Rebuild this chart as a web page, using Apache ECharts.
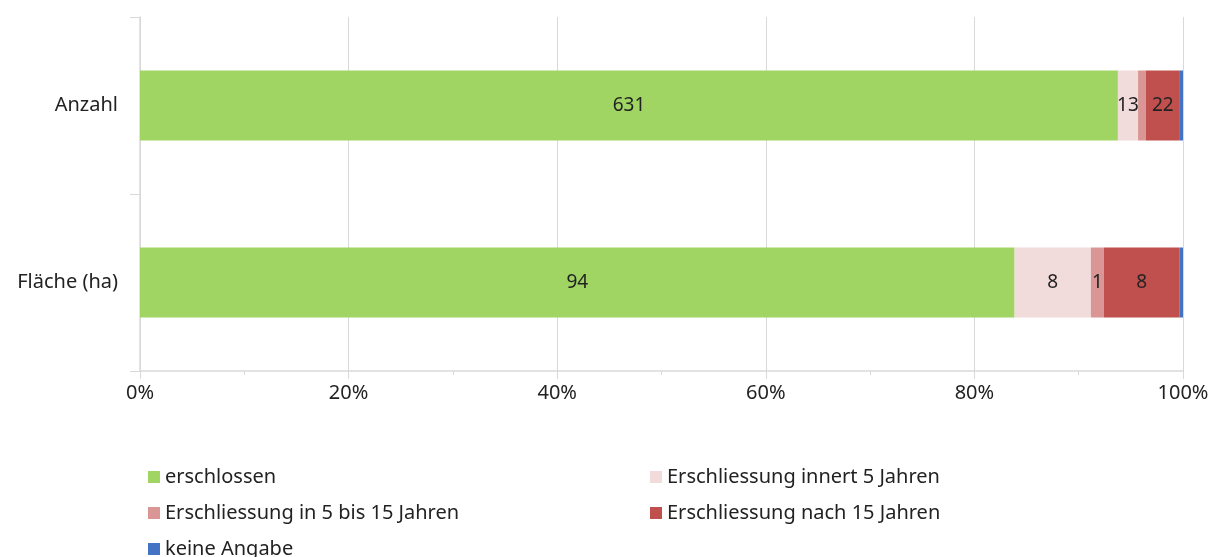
<!DOCTYPE html>
<html><head><meta charset="utf-8">
<script src="https://cdn.jsdelivr.net/npm/echarts@6/dist/echarts.min.js"></script>
<style>html,body{margin:0;padding:0;background:#fff}#c{width:1209px;height:557px}</style>
</head><body><div id="c"></div>
<script>
const categories = ['Anzahl', 'Fläche (ha)'];
const seriesNames = ['erschlossen', 'Erschliessung innert 5 Jahren', 'Erschliessung in 5 bis 15 Jahren', 'Erschliessung nach 15 Jahren', 'keine Angabe'];
const erschlossen = [631, 94];
const innert5 = [13, 8.2];
const in5bis15 = [5, 1.4];
const nach15 = [22, 8.1];
const keineAngabe = [2, 0.4];
const xTicks = [0, 20, 40, 60, 80, 100];

const raw = [erschlossen, innert5, in5bis15, nach15, keineAngabe];
const colors = ['#a0d563', '#f2dcdb', '#d99694', '#c0504d', '#4472c4'];
const totals = categories.map((_, i) => raw.reduce((s, a) => s + a[i], 0));
const FONT = "'Noto Sans', sans-serif";

const legendText = {fontSize: 20, color: '#222', lineHeight: 24, fontFamily: FONT};
const chart = echarts.init(document.getElementById('c'), null, {renderer: 'canvas'});
chart.setOption({
  animation: false,
  textStyle: {fontFamily: FONT},
  grid: {left: 140, right: 26, top: 17, bottom: 186, containLabel: false, outerBoundsMode: 'none'},
  xAxis: {
    type: 'value', min: xTicks[0], max: xTicks[xTicks.length - 1], interval: 20,
    axisLine: {show: true, lineStyle: {color: '#d9d9d9', width: 1.5}},
    axisTick: {show: true, length: 8, lineStyle: {color: '#d9d9d9'}},
    minorTick: {show: true, splitNumber: 2, length: 4, lineStyle: {color: '#d9d9d9'}},
    splitLine: {show: true, lineStyle: {color: '#d9d9d9'}},
    axisLabel: {formatter: '{value}%', color: '#222', fontSize: 20, margin: 12, fontFamily: FONT}
  },
  yAxis: {
    type: 'category', data: categories, inverse: true,
    axisLine: {show: true, lineStyle: {color: '#d9d9d9', width: 1.5}},
    axisTick: {show: true, length: 10, lineStyle: {color: '#d9d9d9'}},
    axisLabel: {color: '#222', fontSize: 20, margin: 22, fontFamily: FONT}
  },
  legend: [
    {left: 143, top: 460, height: 130, orient: 'vertical', itemWidth: 12, itemHeight: 12, itemGap: 12,
     icon: 'rect', data: [seriesNames[0], seriesNames[2], seriesNames[4]], textStyle: legendText},
    {left: 645, top: 460, height: 130, orient: 'vertical', itemWidth: 12, itemHeight: 12, itemGap: 12,
     icon: 'rect', data: [seriesNames[1], seriesNames[3]], textStyle: legendText}
  ],
  series: raw.map((arr, si) => ({
    name: seriesNames[si], type: 'bar', stack: 'total', barWidth: 70,
    itemStyle: {color: colors[si]},
    data: arr.map((v, i) => v / totals[i] * 100),
    label: {
      show: true, position: 'inside', color: '#222', fontSize: 19, fontFamily: FONT,
      formatter: p => (p.value < 1 ? '' : String(Math.round(arr[p.dataIndex])))
    }
  }))
});
</script></body></html>
